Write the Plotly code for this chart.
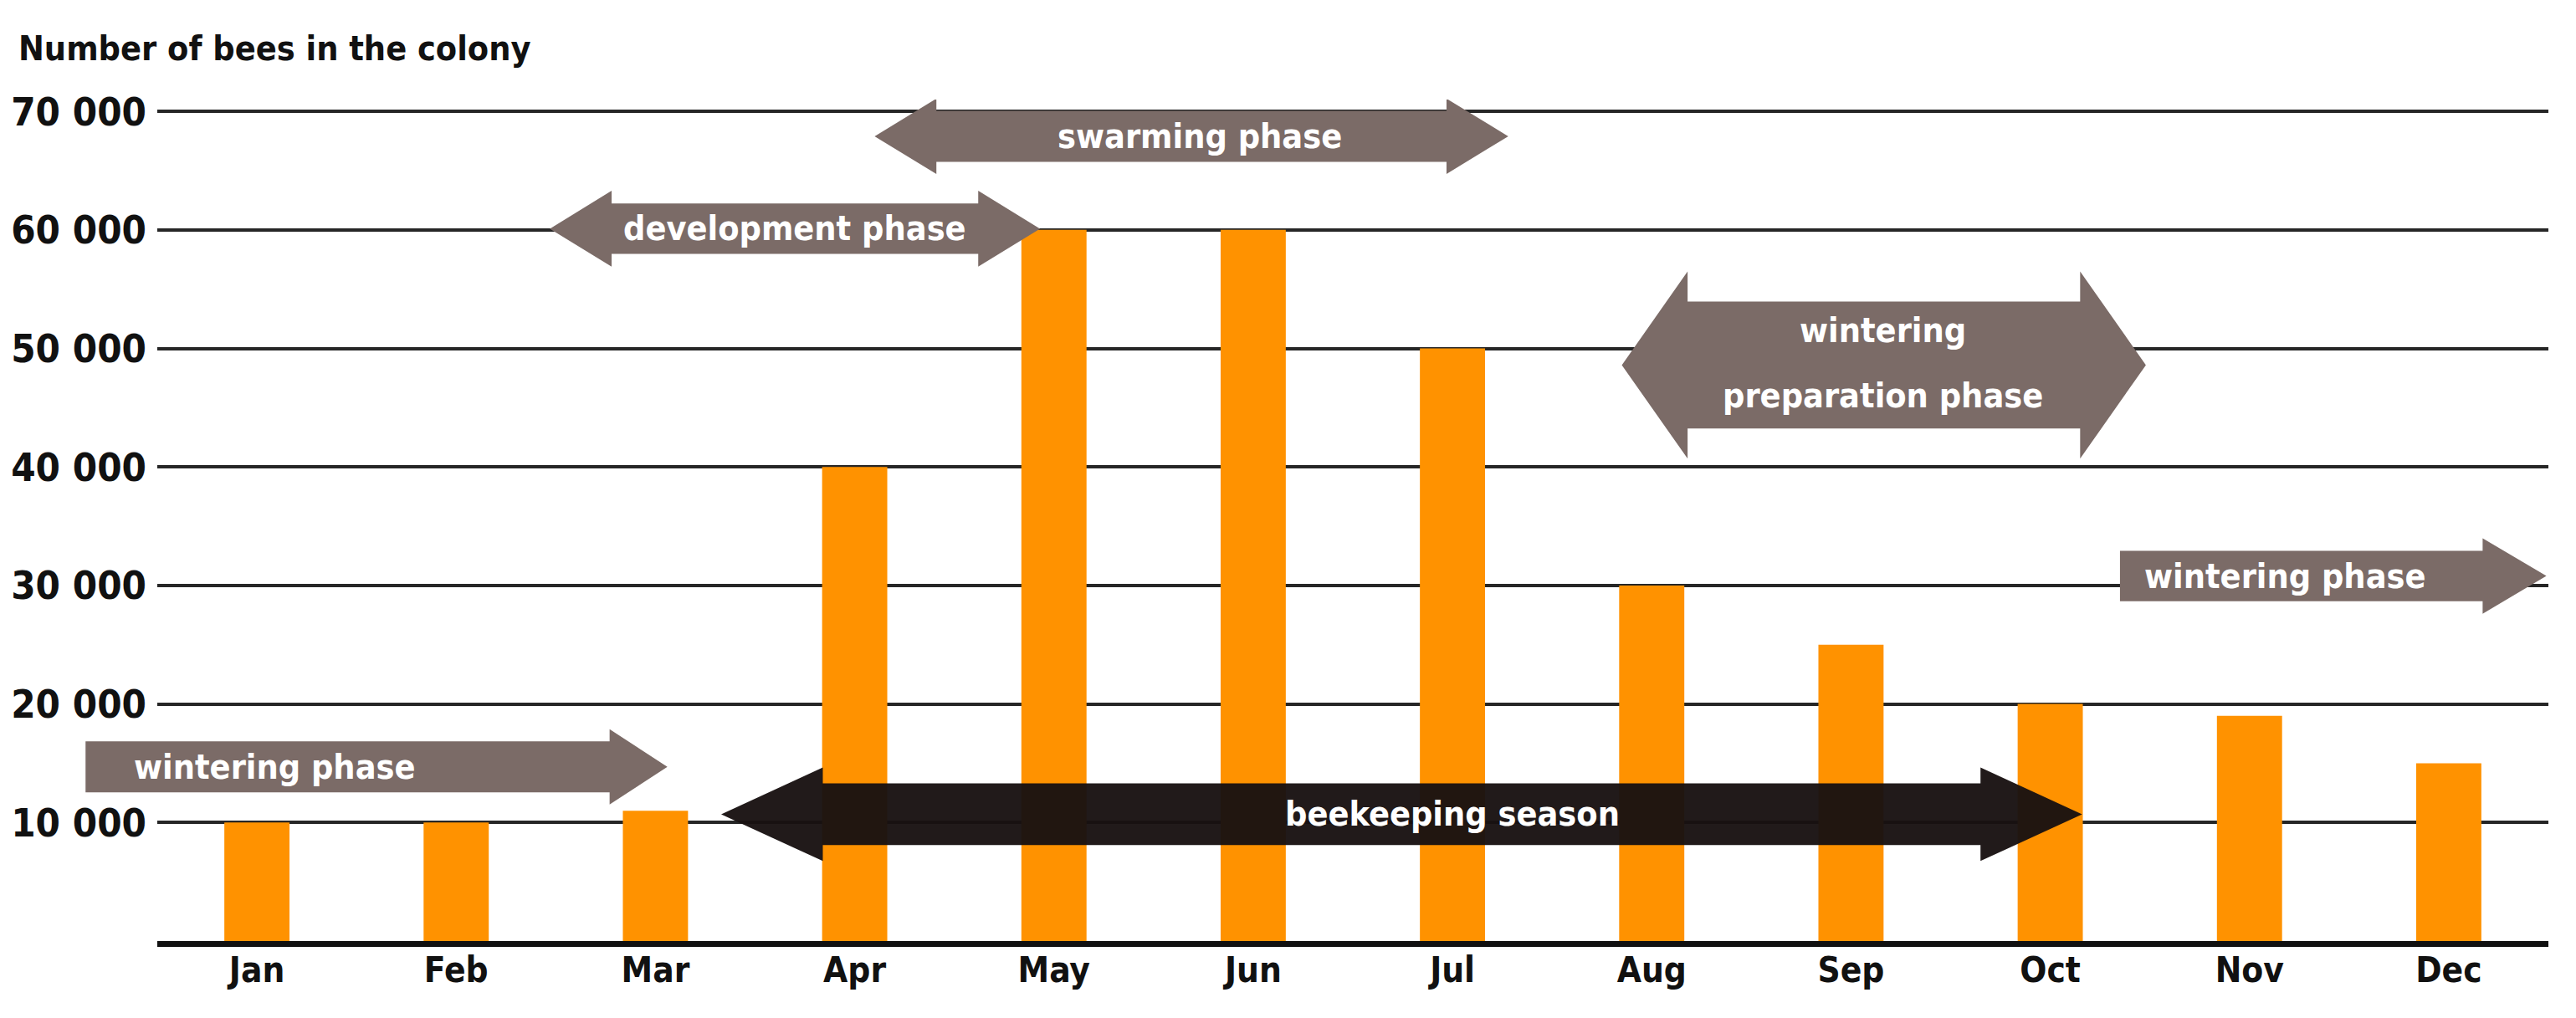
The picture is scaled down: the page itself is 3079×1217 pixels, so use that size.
import plotly.graph_objects as go

# colony size over the year
months = ["Jan", "Feb", "Mar", "Apr", "May", "Jun",
          "Jul", "Aug", "Sep", "Oct", "Nov", "Dec"]
bees = [10000, 10000, 11000, 40000, 60000, 60000,
        50000, 30000, 25000, 20000, 19000, 15000]

y_ticks = [10000, 20000, 30000, 40000, 50000, 60000, 70000]
y_tick_labels = ["10 000", "20 000", "30 000", "40 000",
                 "50 000", "60 000", "70 000"]

# phases: text, start/end in month units, level in bees
phase_text = ["swarming phase", "development phase",
              "wintering<br>preparation phase", "wintering phase",
              "wintering phase", "beekeeping season"]
phase_start = [3.10, 1.47, 6.85, 9.35, -0.86, 2.33]
phase_end = [6.28, 3.93, 9.48, 11.49, 2.06, 9.16]
phase_level = [67900, 60100, 48600, 30800, 14700, 10700]
phase_both_ways = [True, True, True, False, False, True]

FONT = "DejaVu Sans Condensed, Liberation Sans Narrow, Arial Narrow, sans-serif"
GREY_ARROW = "#7b6b67"
DARK_ARROW = "rgba(24,17,17,0.96)"
INK = "#111111"

# arrow look per phase: body half height, head half height (bees), head length (months)
arrow_style = [
    dict(body=2150, head=3180, hlen=0.31, color=GREY_ARROW, tx=4.73, ty=[67900]),
    dict(body=2130, head=3200, hlen=0.31, color=GREY_ARROW, tx=2.70, ty=[60100]),
    dict(body=5360, head=7900, hlen=0.33, color=GREY_ARROW, tx=8.16, ty=[51500, 46000]),
    dict(body=2120, head=3180, hlen=0.32, color=GREY_ARROW, tx=10.18, ty=[30800]),
    dict(body=2150, head=3180, hlen=0.29, color=GREY_ARROW, tx=0.09, ty=[14700]),
    dict(body=2610, head=3950, hlen=0.51, color=DARK_ARROW, tx=6.00, ty=[10700]),
]


def arrow_path(x0, x1, yc, body, head, hlen, both):
    """Arrow outline, x in paper units (so it may leave the plot), y in data."""
    def px(x):
        return (x + 0.5) / len(months)

    if both:
        pts = [(x0, yc), (x0 + hlen, yc + head), (x0 + hlen, yc + body),
               (x1 - hlen, yc + body), (x1 - hlen, yc + head), (x1, yc),
               (x1 - hlen, yc - head), (x1 - hlen, yc - body),
               (x0 + hlen, yc - body), (x0 + hlen, yc - head)]
    else:
        pts = [(x0, yc + body), (x1 - hlen, yc + body), (x1 - hlen, yc + head),
               (x1, yc), (x1 - hlen, yc - head), (x1 - hlen, yc - body),
               (x0, yc - body)]
    return "M " + " L ".join(f"{px(x):.5f},{y:.1f}" for x, y in pts) + " Z"


fig = go.Figure()

fig.add_trace(
    go.Bar(
        x=list(range(len(months))),
        y=bees,
        marker=dict(color="#ff9200", line=dict(width=0)),
        hoverinfo="skip",
    )
)

shapes = []
annotations = []
for i, text in enumerate(phase_text):
    st = arrow_style[i]
    shapes.append(
        dict(
            type="path",
            xref="paper",
            yref="y",
            path=arrow_path(phase_start[i], phase_end[i], phase_level[i],
                            st["body"], st["head"], st["hlen"], phase_both_ways[i]),
            fillcolor=st["color"],
            line=dict(width=0),
            layer="above",
        )
    )
    for line, ty in zip(text.split("<br>"), st["ty"]):
        annotations.append(
            dict(
                x=st["tx"], y=ty, xref="x", yref="y",
                text=line, showarrow=False,
                xanchor="center", yanchor="middle",
                font=dict(family=FONT, size=41, color="white", weight="bold"),
            )
        )

# the page body adds an 8px offset, so margins are trimmed by that much
fig.update_layout(
    width=3079,
    height=1217,
    margin=dict(l=180, r=41, t=111, b=100, pad=0),
    paper_bgcolor="white",
    plot_bgcolor="white",
    showlegend=False,
    bargap=0.673,
    title=dict(
        text="Number of bees in the colony",
        x=14 / 3079, xref="container", xanchor="left",
        y=1 - 50 / 1217, yref="container", yanchor="middle",
        font=dict(family=FONT, size=41, color=INK, weight="bold"),
    ),
    xaxis=dict(
        range=[-0.5, 11.5],
        tickvals=list(range(len(months))),
        ticktext=months,
        ticks="",
        showgrid=False,
        zeroline=False,
        showline=True,
        linecolor=INK,
        linewidth=7,
        automargin=False,
        ticklabelstandoff=-8,
        tickfont=dict(family=FONT, size=42, color=INK, weight="bold"),
    ),
    yaxis=dict(
        range=[0, 71000],
        tickvals=y_ticks,
        ticktext=y_tick_labels,
        ticks="",
        showgrid=True,
        gridcolor="#262626",
        gridwidth=4,
        zeroline=False,
        showline=False,
        automargin=False,
        ticklabelstandoff=12,
        tickfont=dict(family=FONT, size=47, color=INK, weight="bold"),
    ),
    shapes=shapes,
    annotations=annotations,
)

fig.write_html("out.html")
